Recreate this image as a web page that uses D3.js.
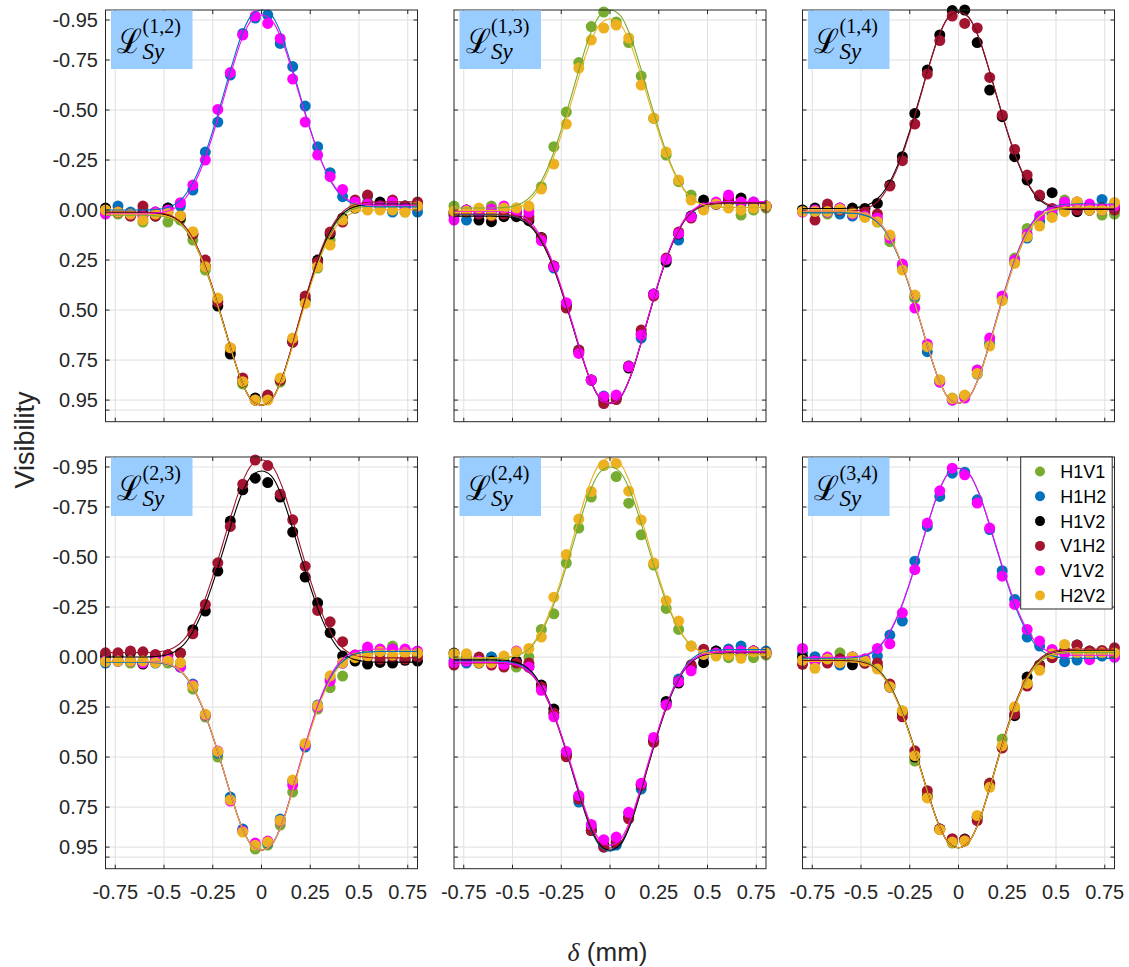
<!DOCTYPE html>
<html><head><meta charset="utf-8">
<script src="https://cdn.jsdelivr.net/npm/d3@7"></script>
<style>body{margin:0;background:#fff} svg{display:block}</style>
</head><body><svg id="chart" width="1129" height="967"></svg>
<script>
// ---------- data ----------
const seriesNames = ["H1V1","H1H2","H1V2","V1H2","V1V2","H2V2"];
const seriesColors = ["#77AC30","#0072BD","#000000","#A2142F","#FF00FF","#EDB120"];
const panelLabels = ["(1,2)","(1,3)","(1,4)","(2,3)","(2,4)","(3,4)"];
const xTickValues = [-0.75,-0.5,-0.25,0,0.25,0.5,0.75];
const xTickLabels = ["-0.75","-0.5","-0.25","0","0.25","0.5","0.75"];
const yTickValues = [-0.95,-0.75,-0.5,-0.25,0,0.25,0.5,0.75,0.95,1];
const yTickLabels = ["-0.95","-0.75","-0.50","-0.25","0.00","0.25","0.50","0.75","0.95",""];

// delay positions (mm)
const xGrid = [-0.8,-0.736,-0.672,-0.608,-0.544,-0.48,-0.416,-0.352,-0.288,-0.224,-0.16,-0.096,-0.032,
                0.032,0.096,0.16,0.224,0.288,0.352,0.416,0.48,0.544,0.608,0.672,0.736,0.8];

// fit curve abscissae and normalised fit shape
const fitGrid = [-0.8,-0.75,-0.7,-0.65,-0.6,-0.55,-0.5,-0.45,-0.4,-0.35,-0.3,-0.25,-0.2,-0.15,-0.1,-0.05,0,
                 0.05,0.1,0.15,0.2,0.25,0.3,0.35,0.4,0.45,0.5,0.55,0.6,0.65,0.7,0.75,0.8];
const fitShape = [0,0,0,0,0,0.002,0.008,0.025,0.065,0.14,0.25,0.395,0.56,0.73,0.88,0.975,1,
                  0.975,0.88,0.73,0.56,0.395,0.25,0.14,0.065,0.025,0.008,0.002,0,0,0,0,0];

// measured visibilities, series order H1V1, H1H2, H1V2, V1H2, V1V2, H2V2
const L12 = [
 [0.01,0.02,0.03,0.06,0.01,0.06,0.05,0.15,0.30,0.45,0.71,0.87,0.95,0.94,0.86,0.65,0.44,0.29,0.15,0.05,-0.02,-0.04,-0.03,-0.03,0.01,-0.01],
 [0.0,-0.02,0.01,0.0,0.01,-0.01,-0.02,-0.10,-0.29,-0.44,-0.675,-0.883,-0.96,-0.975,-0.833,-0.717,-0.52,-0.317,-0.187,-0.067,-0.02,-0.07,-0.01,0.01,-0.02,0.01],
 [-0.01,0.01,0.02,0.02,0.03,-0.01,0.04,0.12,0.28,0.48,0.72,0.86,0.94,0.93,0.85,0.66,0.45,0.25,0.12,0.04,-0.01,-0.03,-0.04,-0.03,-0.02,-0.03],
 [0.0,0.01,0.03,-0.02,0.03,0.01,0.03,0.12,0.25,0.46,0.69,0.84,0.95,0.925,0.85,0.66,0.43,0.26,0.11,0.06,-0.05,-0.075,-0.02,-0.05,-0.02,-0.04],
 [0.02,0.01,0.02,0.03,0.01,0.0,-0.037,-0.125,-0.25,-0.503,-0.687,-0.875,-0.97,-0.933,-0.858,-0.655,-0.44,-0.275,-0.167,-0.103,-0.04,-0.03,-0.02,-0.04,-0.01,-0.02],
 [0.0,0.01,0.02,0.05,0.02,0.017,0.03,0.108,0.283,0.44,0.688,0.858,0.95,0.95,0.84,0.64,0.467,0.283,0.175,0.05,-0.013,0.0,0.0,0.0,0.01,-0.02]
];
const L13 = [
 [-0.02,0.0,0.0,-0.02,-0.01,-0.01,-0.01,-0.117,-0.317,-0.49,-0.737,-0.917,-0.99,-0.94,-0.837,-0.67,-0.458,-0.275,-0.142,-0.075,-0.008,-0.03,-0.05,0.025,0.0,-0.01],
 [0.03,0.05,0.02,0.01,0.0,0.01,0.03,0.14,0.29,0.47,0.70,0.85,0.93,0.93,0.78,0.64,0.42,0.25,0.15,0.03,-0.01,-0.03,-0.05,-0.03,-0.04,-0.02],
 [0.01,0.0,0.05,0.058,0.033,0.033,0.053,0.137,0.28,0.48,0.71,0.85,0.95,0.94,0.79,0.62,0.42,0.26,0.12,0.03,-0.05,-0.03,-0.04,-0.06,-0.03,-0.02],
 [0.02,0.01,0.02,0.03,0.02,0.01,0.04,0.14,0.28,0.49,0.70,0.85,0.967,0.947,0.78,0.60,0.43,0.24,0.11,0.04,-0.01,-0.03,-0.06,-0.04,-0.03,-0.02],
 [0.05,0.0,0.01,-0.005,-0.02,0.0,0.01,0.153,0.283,0.463,0.717,0.85,0.933,0.925,0.783,0.625,0.42,0.247,0.117,0.033,-0.01,-0.04,-0.075,-0.04,-0.04,-0.02],
 [0.005,0.005,-0.01,0.025,-0.01,-0.01,-0.02,-0.105,-0.23,-0.43,-0.71,-0.85,-0.91,-0.925,-0.86,-0.625,-0.46,-0.29,-0.15,-0.05,0.0,-0.03,-0.01,0.0,-0.01,-0.02]
];
const L14 = [
 [0.0,0.01,0.02,0.01,0.02,0.03,0.06,0.158,0.29,0.44,0.68,0.85,0.94,0.93,0.80,0.66,0.44,0.24,0.092,0.05,0.02,-0.05,-0.03,-0.02,0.025,0.02],
 [0.0,0.01,0.01,0.02,0.03,0.03,0.05,0.13,0.28,0.43,0.708,0.86,0.95,0.93,0.82,0.67,0.44,0.26,0.14,0.06,0.02,-0.02,-0.04,-0.02,-0.053,-0.02],
 [0.0,-0.01,-0.01,-0.01,-0.01,-0.008,-0.033,-0.125,-0.267,-0.483,-0.70,-0.875,-0.997,-1.0,-0.837,-0.60,-0.467,-0.267,-0.15,-0.07,-0.087,0.0,0.008,0.0,-0.01,-0.01],
 [0.007,0.05,-0.03,0.0,0.01,0.01,0.02,-0.12,-0.247,-0.43,-0.68,-0.847,-0.97,-0.933,-0.91,-0.663,-0.475,-0.303,-0.175,-0.075,-0.008,-0.03,0.0,0.0,-0.01,0.0],
 [0.01,0.0,0.01,-0.01,0.02,0.03,0.04,0.14,0.27,0.49,0.67,0.86,0.95,0.94,0.80,0.64,0.43,0.25,0.12,0.03,0.0,-0.04,-0.04,-0.03,0.0,-0.02],
 [0.007,0.007,0.007,-0.005,0.015,0.037,0.058,0.125,0.30,0.425,0.683,0.85,0.942,0.925,0.817,0.68,0.453,0.267,0.133,0.08,0.037,0.008,-0.042,0.0,0.0,-0.038]
];
const L23 = [
 [0.02,0.02,0.03,0.02,0.02,0.03,0.03,0.16,0.30,0.50,0.71,0.87,0.96,0.94,0.84,0.675,0.44,0.26,0.153,0.095,0.0,-0.02,-0.02,-0.055,-0.03,-0.02],
 [0.03,0.02,0.02,0.03,0.03,0.02,0.05,0.135,0.29,0.48,0.70,0.86,0.94,0.93,0.81,0.62,0.45,0.24,0.11,0.03,0.0,-0.03,-0.02,-0.04,-0.03,-0.02],
 [-0.005,-0.005,-0.021,0.035,-0.005,-0.01,-0.02,-0.137,-0.23,-0.43,-0.68,-0.836,-0.894,-0.872,-0.80,-0.625,-0.40,-0.271,-0.122,-0.005,0.02,0.035,0.027,0.03,0.016,0.02],
 [-0.021,-0.021,-0.03,-0.026,-0.013,-0.01,-0.02,-0.116,-0.263,-0.471,-0.653,-0.864,-0.985,-0.957,-0.814,-0.686,-0.454,-0.233,-0.176,-0.077,-0.01,0.0,0.01,0.0,0.01,0.0],
 [0.02,0.02,0.02,0.03,0.02,0.01,0.05,0.14,0.29,0.47,0.72,0.87,0.93,0.92,0.82,0.64,0.44,0.25,0.12,0.03,-0.01,-0.05,-0.04,-0.04,-0.04,-0.03],
 [0.023,0.02,0.02,0.02,0.028,0.02,0.028,0.145,0.286,0.472,0.714,0.875,0.941,0.925,0.817,0.614,0.432,0.244,0.094,0.028,0.003,-0.005,-0.027,-0.01,-0.021,-0.02]
];
const L24 = [
 [0.0,0.0,0.02,0.0,0.01,0.05,0.0,-0.138,-0.216,-0.47,-0.645,-0.80,-0.957,-0.902,-0.769,-0.611,-0.46,-0.243,-0.138,-0.055,-0.013,-0.03,0.003,-0.03,0.003,-0.01],
 [0.02,0.03,0.02,0.0,0.03,0.02,0.04,0.15,0.28,0.48,0.725,0.85,0.95,0.94,0.78,0.66,0.42,0.23,0.11,0.05,0.0,-0.03,-0.04,-0.055,-0.03,-0.03],
 [-0.02,0.01,0.03,0.02,0.03,0.02,0.05,0.14,0.26,0.49,0.70,0.867,0.94,0.93,0.80,0.64,0.42,0.222,0.13,0.05,0.028,-0.03,-0.02,-0.01,-0.03,-0.02],
 [0.04,0.02,0.0,0.04,0.05,0.03,0.03,0.15,0.28,0.499,0.71,0.867,0.95,0.925,0.809,0.64,0.427,0.24,0.12,0.039,-0.039,-0.02,-0.03,-0.03,-0.03,-0.02],
 [0.028,0.02,0.02,0.03,0.036,-0.03,0.05,0.166,0.299,0.472,0.692,0.837,0.913,0.90,0.776,0.631,0.402,0.239,0.123,0.069,-0.013,-0.02,-0.03,-0.03,-0.03,-0.02],
 [-0.017,-0.017,0.028,0.028,-0.005,-0.026,-0.043,-0.10,-0.299,-0.512,-0.69,-0.827,-0.96,-0.968,-0.829,-0.685,-0.47,-0.282,-0.18,-0.055,-0.013,-0.005,-0.01,0.006,-0.026,-0.02]
];
const L34 = [
 [0.01,0.02,0.02,-0.021,0.02,0.02,0.05,0.14,0.27,0.52,0.69,0.86,0.93,0.92,0.80,0.63,0.41,0.26,0.13,0.05,0.0,-0.03,-0.02,-0.02,-0.02,-0.02],
 [-0.02,-0.002,0.01,0.04,0.0,0.01,-0.005,-0.11,-0.18,-0.479,-0.653,-0.803,-0.919,-0.924,-0.786,-0.637,-0.432,-0.288,-0.10,-0.055,-0.013,0.023,0.015,0.0,-0.005,0.0],
 [0.0,0.02,0.02,0.01,0.039,0.03,0.05,0.15,0.28,0.50,0.70,0.86,0.92,0.91,0.80,0.64,0.45,0.293,0.10,0.04,0.0,-0.03,-0.06,-0.03,-0.02,-0.02],
 [0.036,0.02,0.03,0.01,0.0,0.03,0.03,0.135,0.299,0.469,0.668,0.86,0.908,0.913,0.817,0.631,0.455,0.285,0.145,0.045,0.003,-0.03,-0.06,-0.03,-0.033,-0.046],
 [-0.043,0.02,0.0,0.028,0.0,0.01,-0.043,-0.066,-0.221,-0.437,-0.67,-0.831,-0.944,-0.911,-0.77,-0.645,-0.404,-0.263,-0.138,-0.08,-0.038,-0.017,-0.02,0.013,-0.02,0.0],
 [0.016,0.056,0.01,0.028,0.0,0.02,0.06,0.149,0.269,0.493,0.704,0.863,0.925,0.92,0.792,0.651,0.443,0.249,0.132,0.066,-0.017,-0.063,-0.021,-0.017,-0.021,-0.02]
];
// fitted peak values per series
const F12 = [0.975,-1.0,0.975,0.975,-0.975,0.975];
const F13 = [-1.0,0.965,0.965,0.965,0.965,-0.955];
const F14 = [0.965,0.965,-0.99,-0.99,0.965,0.965];
const F23 = [0.965,0.965,-0.93,-0.985,0.965,0.965];
const F24 = [-0.95,0.97,0.965,0.955,0.94,-0.995];
const F34 = [0.953,-0.944,0.953,0.953,-0.944,0.953];

const panelData = [L12,L13,L14,L23,L24,L34];
const panelFits = [F12,F13,F14,F23,F24,F34];

// ---------- layout ----------
const colLeft = [105.5, 454, 802.5];
const rowTop = [10, 457];
const W = 312, H = 411.7;
const axisColor = "#262626";
const gridColor = "#dfdfdf";
const sans = "'Liberation Sans', Arial, Helvetica, sans-serif";
const serif = "'Liberation Serif', 'DejaVu Serif', serif";

const svg = d3.select("#chart");
const x = d3.scaleLinear().domain([-0.8, 0.8]).range([0, W]);
const y = d3.scaleLinear().domain([-1, 1.058]).range([0, H]);

panelData.forEach((series, p) => {
  const col = p % 3, row = Math.floor(p / 3);
  const g = svg.append("g").attr("transform", `translate(${colLeft[col]},${rowTop[row]})`);

  // grid
  g.append("g").selectAll("line").data(xTickValues).join("line")
    .attr("x1", d => x(d)).attr("x2", d => x(d)).attr("y1", 0).attr("y2", H)
    .attr("stroke", gridColor).attr("stroke-width", 1);
  g.append("g").selectAll("line").data(yTickValues).join("line")
    .attr("x1", 0).attr("x2", W).attr("y1", d => y(d)).attr("y2", d => y(d))
    .attr("stroke", gridColor).attr("stroke-width", 1);

  // points
  series.forEach((vals, s) => {
    g.append("g").selectAll("circle").data(vals).join("circle")
      .attr("cx", (d, i) => x(xGrid[i])).attr("cy", d => y(d)).attr("r", 5.5)
      .attr("fill", seriesColors[s]);
  });

  // fit lines
  const line = d3.line().x(d => x(d[0])).y(d => y(d[1])).curve(d3.curveCatmullRom.alpha(0.5));
  series.forEach((vals, s) => {
    const tailL = d3.mean(vals.slice(0, 5));
    const tailR = d3.mean(vals.slice(21));
    const peak = panelFits[p][s];
    const pts = fitGrid.map((fx, i) => {
      const t = fx < 0 ? tailL : tailR;
      return [fx, peak * fitShape[i] + (1 - fitShape[i]) * t];
    });
    g.append("path").datum(pts).attr("d", line)
      .attr("fill", "none").attr("stroke", seriesColors[s]).attr("stroke-width", 1.1);
  });

  // axes box
  g.append("rect").attr("x", 0).attr("y", 0).attr("width", W).attr("height", H)
    .attr("fill", "none").attr("stroke", axisColor).attr("stroke-width", 1);

  // ticks (inside, all four sides)
  const tl = 4;
  yTickValues.forEach(v => {
    g.append("line").attr("x1", 0).attr("x2", tl).attr("y1", y(v)).attr("y2", y(v)).attr("stroke", axisColor);
    g.append("line").attr("x1", W).attr("x2", W - tl).attr("y1", y(v)).attr("y2", y(v)).attr("stroke", axisColor);
  });
  xTickValues.forEach(v => {
    g.append("line").attr("x1", x(v)).attr("x2", x(v)).attr("y1", H).attr("y2", H - tl).attr("stroke", axisColor);
    g.append("line").attr("x1", x(v)).attr("x2", x(v)).attr("y1", 0).attr("y2", tl).attr("stroke", axisColor);
  });

  // tick labels
  if (col === 0) {
    g.append("g").selectAll("text").data(yTickValues).join("text")
      .attr("x", -7.5).attr("y", d => y(d)).attr("dy", "0.36em")
      .attr("text-anchor", "end").attr("font-family", sans).attr("font-size", 20)
      .attr("fill", axisColor).text((d, i) => yTickLabels[i]);
  }
  if (row === 1) {
    g.append("g").selectAll("text").data(xTickValues).join("text")
      .attr("x", d => x(d)).attr("y", H + 30.5)
      .attr("text-anchor", "middle").attr("font-family", sans).attr("font-size", 20)
      .attr("fill", axisColor).text((d, i) => xTickLabels[i]);
  }

  // label box
  const lb = g.append("g");
  lb.append("rect").attr("x", 5.5).attr("y", 0.5).attr("width", 81.5).attr("height", 58.5).attr("fill", "#99ccff");
  lb.append("text").attr("transform", "translate(11.5,43) scale(0.88,1)")
    .attr("font-family", "'DejaVu Serif', 'Liberation Serif', serif").attr("font-size", 34)
    .attr("fill", "#000").text("\u2112");
  lb.append("text").attr("x", 37).attr("y", 23)
    .attr("font-family", serif).attr("font-size", 20)
    .attr("fill", "#000").text(panelLabels[p]);
  lb.append("text").attr("x", 37).attr("y", 48.5)
    .attr("font-family", serif).attr("font-style", "italic").attr("font-size", 23)
    .attr("fill", "#000").text("Sy");

  // legend in last panel
  if (p === 5) {
    const lg = g.append("g").attr("transform", `translate(${1020.7 - colLeft[2]},0)`);
    lg.append("rect").attr("x", 0).attr("y", 0).attr("width", 91.5).attr("height", 152)
      .attr("fill", "#fff").attr("stroke", axisColor).attr("stroke-width", 1);
    seriesNames.forEach((nm, s) => {
      const yy = 14.5 + s * 24.8;
      lg.append("circle").attr("cx", 19.3).attr("cy", yy).attr("r", 5).attr("fill", seriesColors[s]);
      lg.append("text").attr("x", 39.5).attr("y", yy).attr("dy", "0.36em")
        .attr("font-family", sans).attr("font-size", 18).attr("fill", "#000").text(nm);
    });
  }
});

// axis titles
svg.append("text").attr("transform", "translate(34,440) rotate(-90)")
  .attr("text-anchor", "middle").attr("font-family", sans).attr("font-size", 27)
  .attr("fill", axisColor).text("Visibility");
const xt = svg.append("text").attr("x", 607.5).attr("y", 961).attr("text-anchor", "middle")
  .attr("font-size", 26).attr("fill", axisColor);
xt.append("tspan").attr("font-family", "'Liberation Serif', serif").attr("font-style", "italic").text("\u03b4");
xt.append("tspan").attr("font-family", sans).text(" (mm)");
</script></body></html>
